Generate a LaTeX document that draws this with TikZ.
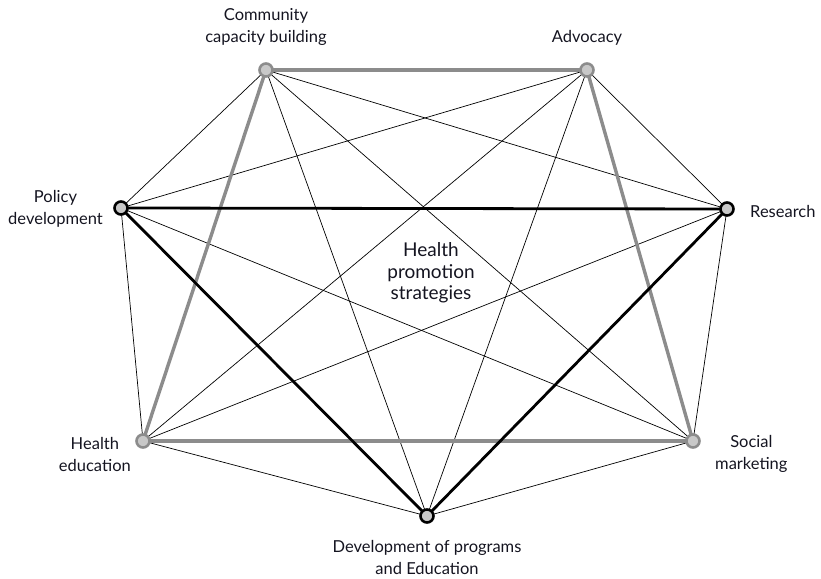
\documentclass[tikz,border=0pt]{standalone}
\usepackage{fontspec}
\setmainfont{Lato}
\definecolor{lgray}{HTML}{C8C8C8}
\definecolor{mgray}{HTML}{8C8C8C}
\definecolor{txt}{HTML}{141420}
\begin{document}
\begin{tikzpicture}[x=1pt,y=-1pt,
  thin line/.style={draw=black,line width=0.7pt},
  thick gray/.style={draw=mgray,line width=3.4pt},
  thick black/.style={draw=black,line width=2.8pt},
  gnode/.style={circle,fill=lgray,draw=mgray,line width=2.6pt,minimum size=13pt,inner sep=0pt},
  bnode/.style={circle,fill=lgray,draw=black,line width=2.6pt,minimum size=13pt,inner sep=0pt},
  lab/.style={font=\fontsize{16.5}{22}\selectfont,text=txt,align=center,inner sep=0pt},
  clab/.style={font=\fontsize{19}{21.5}\selectfont,text=txt,align=center,inner sep=0pt}]
\useasboundingbox (0,0) rectangle (821,578);
\coordinate (C) at (266,70);
\coordinate (A) at (587,70);
\coordinate (P) at (121,208);
\coordinate (R) at (727,209);
\coordinate (H) at (143,441);
\coordinate (S) at (693,441);
\coordinate (D) at (427,516);
% thin
\foreach \a/\b in {C/P,C/R,C/S,C/D,A/P,A/R,A/H,A/D,P/H,P/S,R/H,R/S,H/D,S/D}
  \draw[thin line] (\a) -- (\b);
% thick
\draw[thick gray] (C) -- (A);
\draw[thick gray] (C) -- (H);
\draw[thick gray] (A) -- (S);
\draw[thick gray] (H) -- (S);
\draw[thick black] (P) -- (R);
\draw[thick black] (P) -- (D);
\draw[thick black] (R) -- (D);
% nodes
\node[gnode] (nC) at (C) {};
\node[gnode] (nA) at (A) {};
\node[bnode] (nP) at (P) {};
\node[bnode] (nR) at (R) {};
\node[gnode] (nH) at (H) {};
\node[gnode] (nS) at (S) {};
\node[bnode] (nD) at (D) {};
% labels
\node[lab] (tC) at (266,27) {Community\\capacity building};
\node[lab] (tA) at (587,38) {Advocacy};
\node[lab,anchor=east] (tP) at (103,209) {Policy\\development};
\node[lab,anchor=west] (tR) at (750,211) {Research};
\node[lab,anchor=east] (tH) at (131,454) {Health\\education};
\node[lab,anchor=west] (tS) at (715,454) {Social\\marketing};
\node[lab] (tD) at (427,557) {Development of programs\\and Education};
\node[clab] (tM) at (431,273) {Health\\promotion\\strategies};
\end{tikzpicture}
\end{document}
